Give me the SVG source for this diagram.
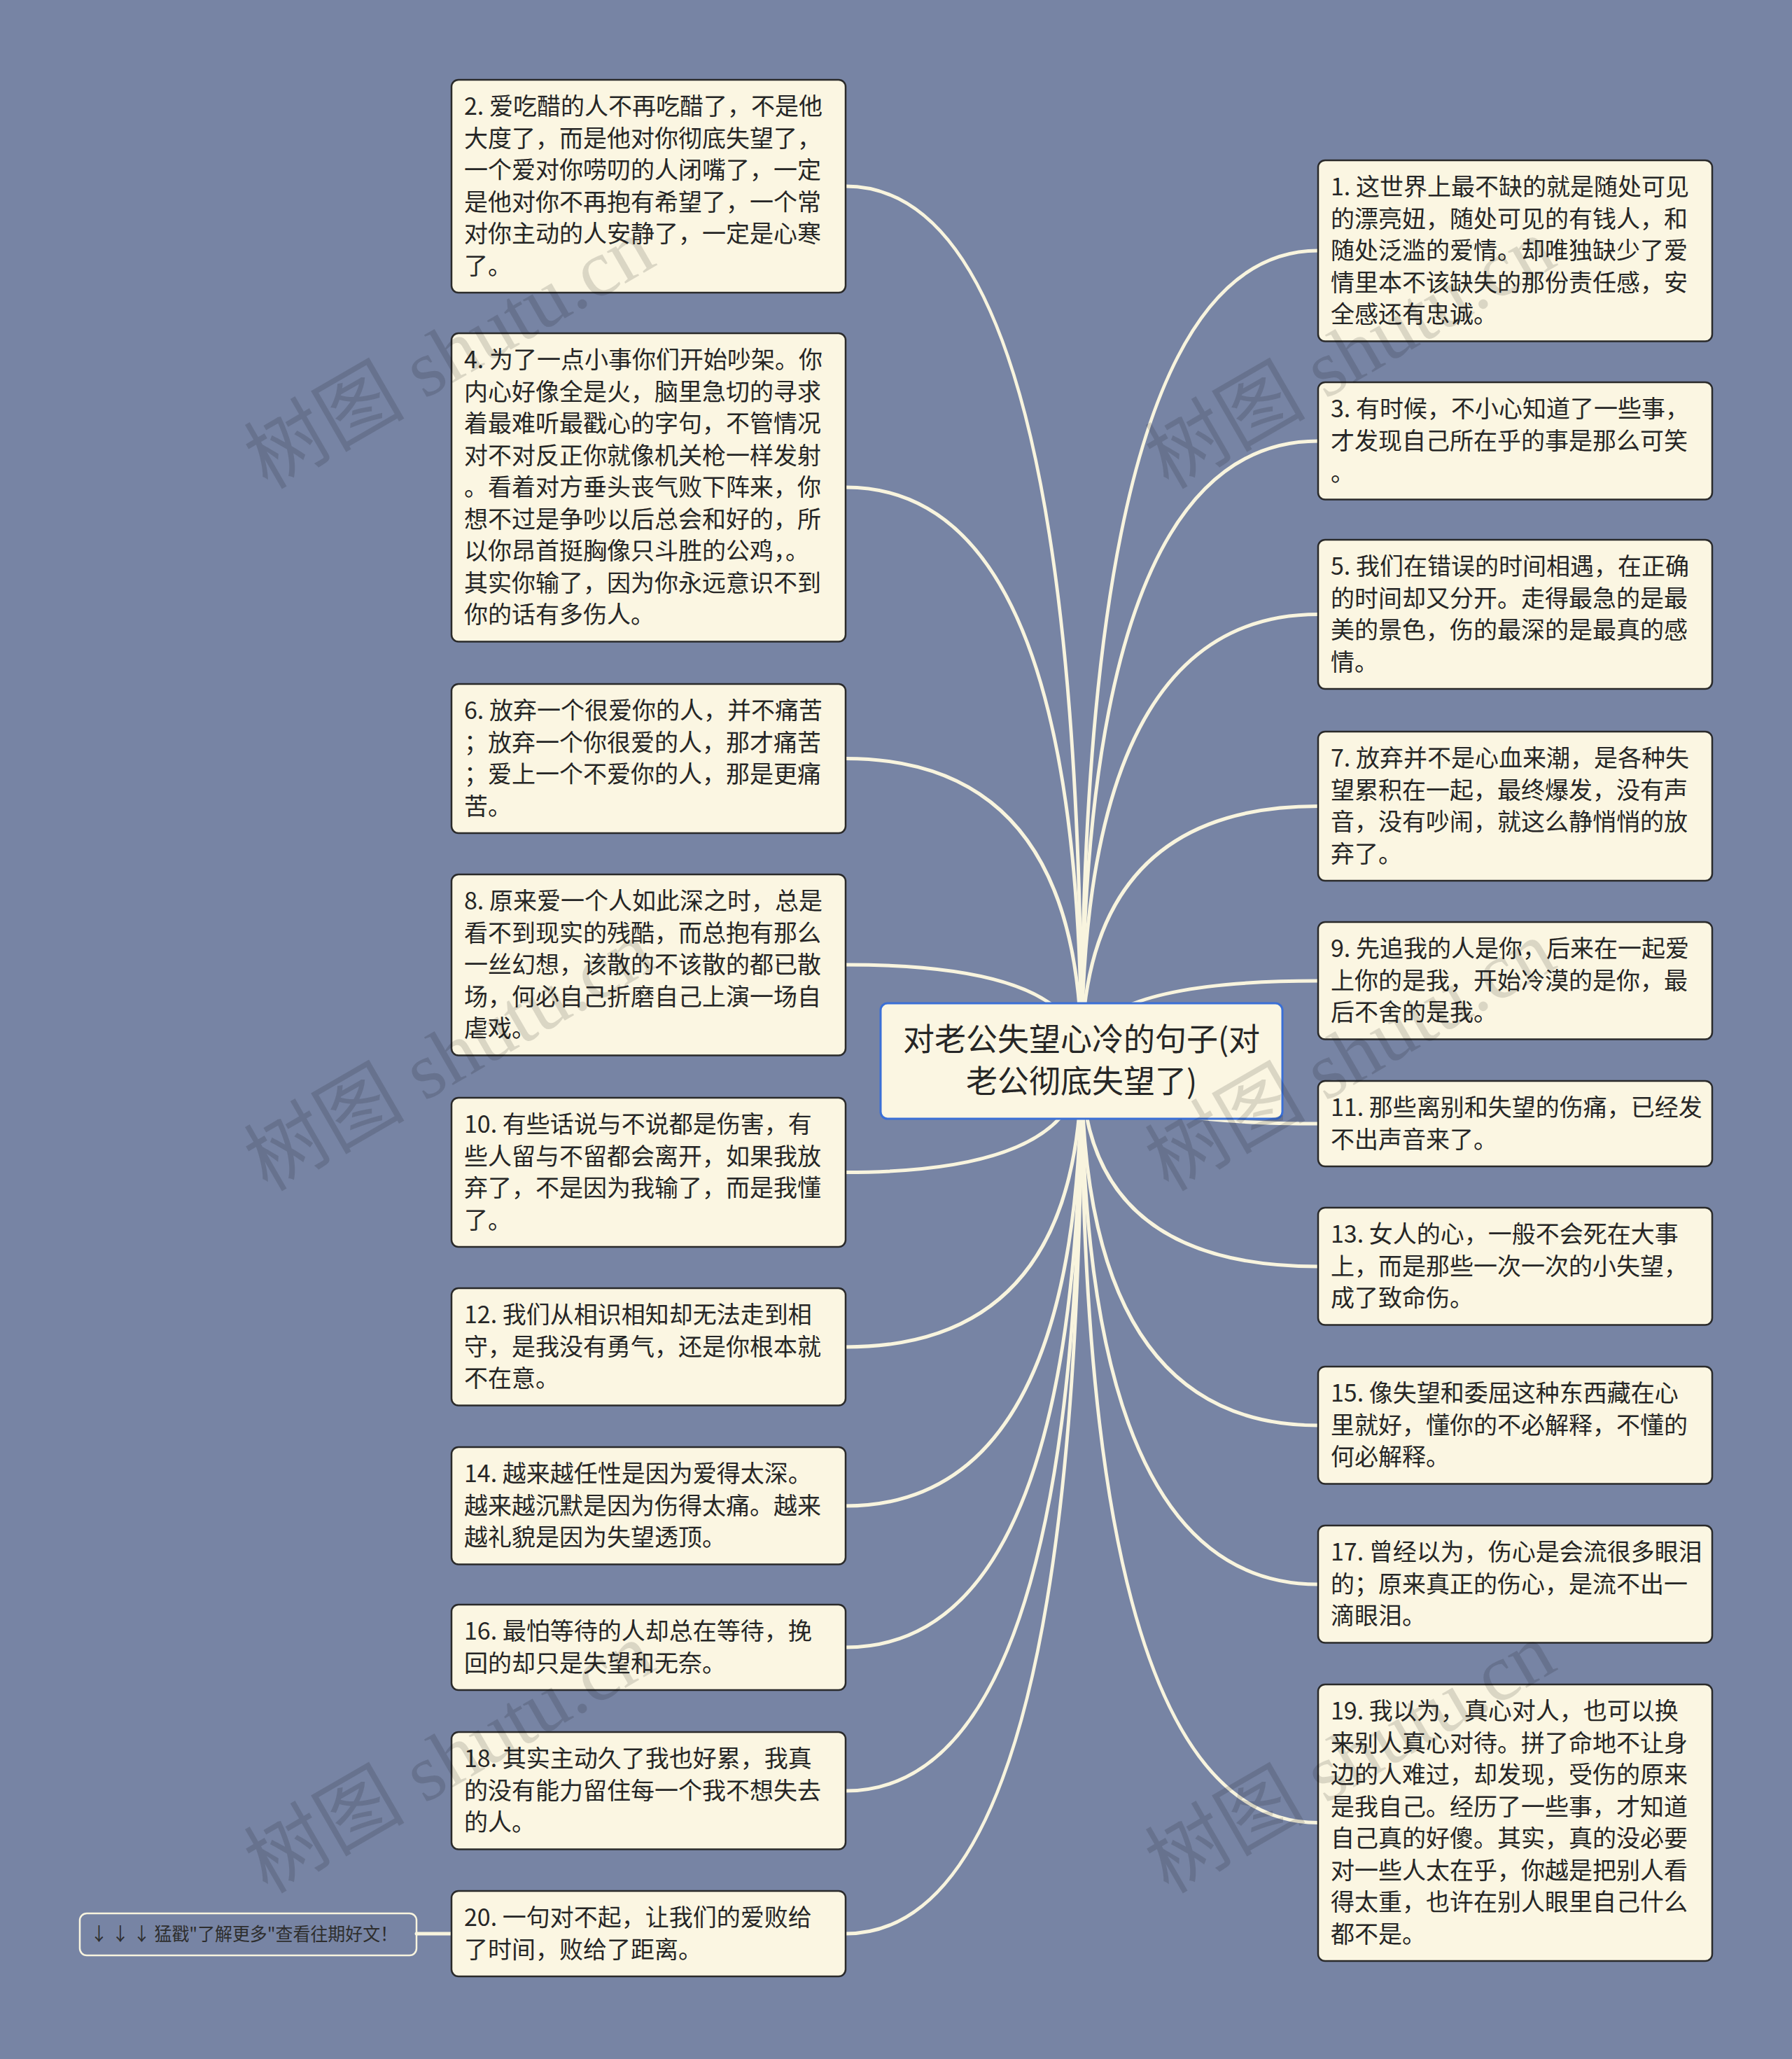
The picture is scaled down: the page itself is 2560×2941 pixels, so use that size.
<svg xmlns="http://www.w3.org/2000/svg" width="2560" height="2941" viewBox="0 0 2560 2941">
<style>
.bg{fill:#7784a4}
.box{fill:#fbf6e2;stroke:#2a2a2a;stroke-width:2.5}
.root{fill:#fbf6e2;stroke:#3a6fd6;stroke-width:3}
.t{font-family:'Noto Sans CJK SC','Noto Sans',sans-serif;font-size:34px;fill:#262626}
.rt{font-family:'Noto Sans CJK SC','Noto Sans',sans-serif;font-size:45px;fill:#262626;text-anchor:middle}
.ln{fill:none;stroke:#f8f4de;stroke-width:5;stroke-linecap:round}
.wm{font-family:'Liberation Serif','Noto Sans CJK SC',serif;font-size:115px;fill:#000;fill-opacity:0.13}
.more{fill:none;stroke:#f8f4de;stroke-width:2.5}
.mt{font-family:'Noto Sans CJK SC','Noto Sans',sans-serif;font-size:26px;fill:#2e2e2e}
</style>
<rect class="bg" x="0" y="0" width="2560" height="2941"/>
<g id="connectors">
<path class="ln" d="M1545 1515 Q1545 266 1208 266"/>
<path class="ln" d="M1545 1515 Q1545 696 1208 696"/>
<path class="ln" d="M1545 1515 Q1545 1083.5 1208 1083.5"/>
<path class="ln" d="M1545 1515 Q1545 1378 1208 1378"/>
<path class="ln" d="M1545 1515 Q1545 1674.5 1208 1674.5"/>
<path class="ln" d="M1545 1515 Q1545 1924 1208 1924"/>
<path class="ln" d="M1545 1515 Q1545 2151 1208 2151"/>
<path class="ln" d="M1545 1515 Q1545 2353 1208 2353"/>
<path class="ln" d="M1545 1515 Q1545 2558 1208 2558"/>
<path class="ln" d="M1545 1515 Q1545 2762 1208 2762"/>
<path class="ln" d="M1545 1515 Q1545 358 1883 358"/>
<path class="ln" d="M1545 1515 Q1545 630 1883 630"/>
<path class="ln" d="M1545 1515 Q1545 877.5 1883 877.5"/>
<path class="ln" d="M1545 1515 Q1545 1151.5 1883 1151.5"/>
<path class="ln" d="M1545 1515 Q1545 1401 1883 1401"/>
<path class="ln" d="M1545 1515 Q1545 1605 1883 1605"/>
<path class="ln" d="M1545 1515 Q1545 1809 1883 1809"/>
<path class="ln" d="M1545 1515 Q1545 2036 1883 2036"/>
<path class="ln" d="M1545 1515 Q1545 2263 1883 2263"/>
<path class="ln" d="M1545 1515 Q1545 2603.5 1883 2603.5"/>
<path class="ln" d="M595 2762 L645 2762"/>
</g>
<g id="root">
<rect class="root" x="1258" y="1433" width="574" height="165" rx="10"/>
<text class="rt"><tspan x="1545" y="1501">对老公失望心冷的句子(对</tspan><tspan x="1545" y="1561">老公彻底失望了)</tspan></text>
</g>
<g id="n2">
<rect class="box" x="645" y="114" width="563" height="304" rx="10"/>
<text class="t"><tspan x="663" y="164">2. 爱吃醋的人不再吃醋了，不是他</tspan><tspan x="663" dy="45.5">大度了，而是他对你彻底失望了，</tspan><tspan x="663" dy="45.5">一个爱对你唠叨的人闭嘴了，一定</tspan><tspan x="663" dy="45.5">是他对你不再抱有希望了，一个常</tspan><tspan x="663" dy="45.5">对你主动的人安静了，一定是心寒</tspan><tspan x="663" dy="45.5">了。</tspan></text>
</g>
<g id="n4">
<rect class="box" x="645" y="476" width="563" height="440.5" rx="10"/>
<text class="t"><tspan x="663" y="526">4. 为了一点小事你们开始吵架。你</tspan><tspan x="663" dy="45.5">内心好像全是火，脑里急切的寻求</tspan><tspan x="663" dy="45.5">着最难听最戳心的字句，不管情况</tspan><tspan x="663" dy="45.5">对不对反正你就像机关枪一样发射</tspan><tspan x="663" dy="45.5">。看着对方垂头丧气败下阵来，你</tspan><tspan x="663" dy="45.5">想不过是争吵以后总会和好的，所</tspan><tspan x="663" dy="45.5">以你昂首挺胸像只斗胜的公鸡，。</tspan><tspan x="663" dy="45.5">其实你输了，因为你永远意识不到</tspan><tspan x="663" dy="45.5">你的话有多伤人。</tspan></text>
</g>
<g id="n6">
<rect class="box" x="645" y="977" width="563" height="213" rx="10"/>
<text class="t"><tspan x="663" y="1027">6. 放弃一个很爱你的人，并不痛苦</tspan><tspan x="663" dy="45.5">；放弃一个你很爱的人，那才痛苦</tspan><tspan x="663" dy="45.5">；爱上一个不爱你的人，那是更痛</tspan><tspan x="663" dy="45.5">苦。</tspan></text>
</g>
<g id="n8">
<rect class="box" x="645" y="1249" width="563" height="258.5" rx="10"/>
<text class="t"><tspan x="663" y="1299">8. 原来爱一个人如此深之时，总是</tspan><tspan x="663" dy="45.5">看不到现实的残酷，而总抱有那么</tspan><tspan x="663" dy="45.5">一丝幻想，该散的不该散的都已散</tspan><tspan x="663" dy="45.5">场，何必自己折磨自己上演一场自</tspan><tspan x="663" dy="45.5">虐戏。</tspan></text>
</g>
<g id="n10">
<rect class="box" x="645" y="1568" width="563" height="213" rx="10"/>
<text class="t"><tspan x="663" y="1618">10. 有些话说与不说都是伤害，有</tspan><tspan x="663" dy="45.5">些人留与不留都会离开，如果我放</tspan><tspan x="663" dy="45.5">弃了，不是因为我输了，而是我懂</tspan><tspan x="663" dy="45.5">了。</tspan></text>
</g>
<g id="n12">
<rect class="box" x="645" y="1840" width="563" height="167.5" rx="10"/>
<text class="t"><tspan x="663" y="1890">12. 我们从相识相知却无法走到相</tspan><tspan x="663" dy="45.5">守，是我没有勇气，还是你根本就</tspan><tspan x="663" dy="45.5">不在意。</tspan></text>
</g>
<g id="n14">
<rect class="box" x="645" y="2067" width="563" height="167.5" rx="10"/>
<text class="t"><tspan x="663" y="2117">14. 越来越任性是因为爱得太深。</tspan><tspan x="663" dy="45.5">越来越沉默是因为伤得太痛。越来</tspan><tspan x="663" dy="45.5">越礼貌是因为失望透顶。</tspan></text>
</g>
<g id="n16">
<rect class="box" x="645" y="2292" width="563" height="122" rx="10"/>
<text class="t"><tspan x="663" y="2342">16. 最怕等待的人却总在等待，挽</tspan><tspan x="663" dy="45.5">回的却只是失望和无奈。</tspan></text>
</g>
<g id="n18">
<rect class="box" x="645" y="2474" width="563" height="167.5" rx="10"/>
<text class="t"><tspan x="663" y="2524">18. 其实主动久了我也好累，我真</tspan><tspan x="663" dy="45.5">的没有能力留住每一个我不想失去</tspan><tspan x="663" dy="45.5">的人。</tspan></text>
</g>
<g id="n20">
<rect class="box" x="645" y="2701" width="563" height="122" rx="10"/>
<text class="t"><tspan x="663" y="2751">20. 一句对不起，让我们的爱败给</tspan><tspan x="663" dy="45.5">了时间，败给了距离。</tspan></text>
</g>
<g id="n1">
<rect class="box" x="1883" y="229" width="563" height="258.5" rx="10"/>
<text class="t"><tspan x="1901" y="279">1. 这世界上最不缺的就是随处可见</tspan><tspan x="1901" dy="45.5">的漂亮妞，随处可见的有钱人，和</tspan><tspan x="1901" dy="45.5">随处泛滥的爱情。却唯独缺少了爱</tspan><tspan x="1901" dy="45.5">情里本不该缺失的那份责任感，安</tspan><tspan x="1901" dy="45.5">全感还有忠诚。</tspan></text>
</g>
<g id="n3">
<rect class="box" x="1883" y="546" width="563" height="167.5" rx="10"/>
<text class="t"><tspan x="1901" y="596">3. 有时候，不小心知道了一些事，</tspan><tspan x="1901" dy="45.5">才发现自己所在乎的事是那么可笑</tspan><tspan x="1901" dy="45.5">。</tspan></text>
</g>
<g id="n5">
<rect class="box" x="1883" y="771" width="563" height="213" rx="10"/>
<text class="t"><tspan x="1901" y="821">5. 我们在错误的时间相遇，在正确</tspan><tspan x="1901" dy="45.5">的时间却又分开。走得最急的是最</tspan><tspan x="1901" dy="45.5">美的景色，伤的最深的是最真的感</tspan><tspan x="1901" dy="45.5">情。</tspan></text>
</g>
<g id="n7">
<rect class="box" x="1883" y="1045" width="563" height="213" rx="10"/>
<text class="t"><tspan x="1901" y="1095">7. 放弃并不是心血来潮，是各种失</tspan><tspan x="1901" dy="45.5">望累积在一起，最终爆发，没有声</tspan><tspan x="1901" dy="45.5">音，没有吵闹，就这么静悄悄的放</tspan><tspan x="1901" dy="45.5">弃了。</tspan></text>
</g>
<g id="n9">
<rect class="box" x="1883" y="1317" width="563" height="167.5" rx="10"/>
<text class="t"><tspan x="1901" y="1367">9. 先追我的人是你，后来在一起爱</tspan><tspan x="1901" dy="45.5">上你的是我，开始冷漠的是你，最</tspan><tspan x="1901" dy="45.5">后不舍的是我。</tspan></text>
</g>
<g id="n11">
<rect class="box" x="1883" y="1544" width="563" height="122" rx="10"/>
<text class="t"><tspan x="1901" y="1594">11. 那些离别和失望的伤痛，已经发</tspan><tspan x="1901" dy="45.5">不出声音来了。</tspan></text>
</g>
<g id="n13">
<rect class="box" x="1883" y="1725" width="563" height="167.5" rx="10"/>
<text class="t"><tspan x="1901" y="1775">13. 女人的心，一般不会死在大事</tspan><tspan x="1901" dy="45.5">上，而是那些一次一次的小失望，</tspan><tspan x="1901" dy="45.5">成了致命伤。</tspan></text>
</g>
<g id="n15">
<rect class="box" x="1883" y="1952" width="563" height="167.5" rx="10"/>
<text class="t"><tspan x="1901" y="2002">15. 像失望和委屈这种东西藏在心</tspan><tspan x="1901" dy="45.5">里就好，懂你的不必解释，不懂的</tspan><tspan x="1901" dy="45.5">何必解释。</tspan></text>
</g>
<g id="n17">
<rect class="box" x="1883" y="2179" width="563" height="167.5" rx="10"/>
<text class="t"><tspan x="1901" y="2229">17. 曾经以为，伤心是会流很多眼泪</tspan><tspan x="1901" dy="45.5">的；原来真正的伤心，是流不出一</tspan><tspan x="1901" dy="45.5">滴眼泪。</tspan></text>
</g>
<g id="n19">
<rect class="box" x="1883" y="2406" width="563" height="395" rx="10"/>
<text class="t"><tspan x="1901" y="2456">19. 我以为，真心对人，也可以换</tspan><tspan x="1901" dy="45.5">来别人真心对待。拼了命地不让身</tspan><tspan x="1901" dy="45.5">边的人难过，却发现，受伤的原来</tspan><tspan x="1901" dy="45.5">是我自己。经历了一些事，才知道</tspan><tspan x="1901" dy="45.5">自己真的好傻。其实，真的没必要</tspan><tspan x="1901" dy="45.5">对一些人太在乎，你越是把别人看</tspan><tspan x="1901" dy="45.5">得太重，也许在别人眼里自己什么</tspan><tspan x="1901" dy="45.5">都不是。</tspan></text>
</g>
<g id="more">
<rect class="more" x="114" y="2733" width="481" height="60" rx="10"/>
<text class="mt" x="129" y="2772" textLength="439" lengthAdjust="spacingAndGlyphs">↓ ↓ ↓ 猛戳"了解更多"查看往期好文！</text>
</g>
<g id="watermarks">
<text class="wm" transform="translate(382 700) rotate(-30)">树图 shutu.cn</text>
<text class="wm" transform="translate(382 1703) rotate(-30)">树图 shutu.cn</text>
<text class="wm" transform="translate(382 2706) rotate(-30)">树图 shutu.cn</text>
<text class="wm" transform="translate(1669 700) rotate(-30)">树图 shutu.cn</text>
<text class="wm" transform="translate(1669 1703) rotate(-30)">树图 shutu.cn</text>
<text class="wm" transform="translate(1669 2706) rotate(-30)">树图 shutu.cn</text>
</g>
</svg>
